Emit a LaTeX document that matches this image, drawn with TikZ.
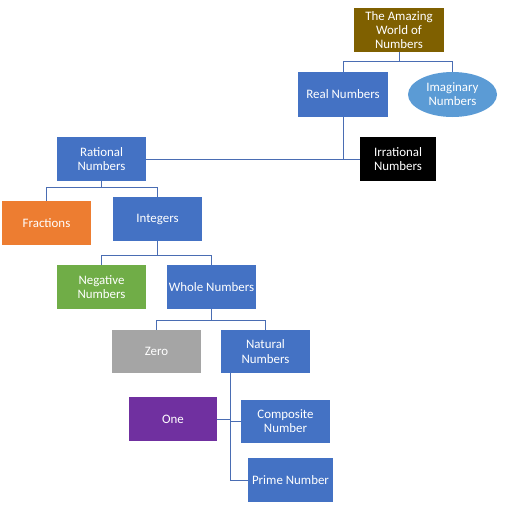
\documentclass[tikz,border=0pt]{standalone}
\usepackage{fontspec}
\setmainfont{Carlito}
\usetikzlibrary{shapes.geometric}
\definecolor{cblue}{HTML}{4472C4}
\definecolor{clight}{HTML}{5B9BD5}
\definecolor{cbrown}{HTML}{7F6000}
\definecolor{corange}{HTML}{ED7D31}
\definecolor{cgreen}{HTML}{70AD47}
\definecolor{cgray}{HTML}{A5A5A5}
\definecolor{cpurple}{HTML}{7030A0}
\definecolor{cline}{HTML}{4A6DB3}
\begin{document}
\begin{tikzpicture}[x=1pt,y=-1pt,
  box/.style={rectangle,fill=cblue,text=white,minimum width=89pt,minimum height=44pt,inner sep=1pt,align=center,font=\fontsize{12.9}{14.2}\selectfont},
  conn/.style={draw=cline,line width=1pt}]
\useasboundingbox (0,0) rectangle (505,507);
\node[box,fill=cbrown,minimum width=90pt] (top) at (399,30) {The Amazing\\World of\\Numbers};
\node[box,minimum width=90pt,minimum height=45pt] (real) at (343,94.5) {Real Numbers};
\node[box,ellipse,fill=clight,minimum width=89pt,minimum height=45pt,inner sep=0pt] (imag) at (452.5,94.5) {Imaginary\\Numbers};
\node[box,fill=black,minimum width=76pt] (irr) at (398,159) {Irrational\\Numbers};
\node[box] (rat) at (101.5,159) {Rational\\Numbers};
\node[box,fill=corange] (frac) at (46.5,223) {Fractions};
\node[box] (int) at (157.5,219) {Integers};
\node[box,fill=cgreen] (neg) at (101.5,287) {Negative\\Numbers};
\node[box] (whole) at (211.5,287) {Whole Numbers};
\node[box,fill=cgray,minimum height=43pt] (zero) at (156.5,351.5) {Zero};
\node[box,minimum height=43pt] (nat) at (265.5,351.5) {Natural\\Numbers};
\node[box,fill=cpurple,minimum width=88pt] (one) at (173,419) {One};
\node[box,minimum height=43pt] (comp) at (285.5,421.5) {Composite\\Number};
\node[box,minimum width=85pt] (prime) at (290.5,480) {Prime Number};
% connectors
\draw[conn] (top.south) -- ++(0,9) -| (real.north);
\draw[conn] (top.south) -- ++(0,9) -| (imag.north);
\draw[conn] (rat.east) -- (irr.west);
\draw[conn] (real.south) -- (real.south |- rat.east);
\draw[conn] (rat.south) -- ++(0,6) -| (frac.north);
\draw[conn] (rat.south) -- ++(0,6) -| (int.north);
\draw[conn] (int.south) -- ++(0,14) -| (neg.north);
\draw[conn] (int.south) -- ++(0,14) -| (whole.north);
\draw[conn] (whole.south) -- ++(0,11) -| (zero.north);
\draw[conn] (whole.south) -- ++(0,11) -| (nat.north);
\coordinate (ntop) at (230,373);
\coordinate (nbot) at (230,480);
\draw[conn] (ntop) -- (nbot) -- (prime.west);
\draw[conn] (ntop |- comp.west) -- (comp.west);
\draw[conn] (one.east) -- (ntop |- one.east);
\end{tikzpicture}
\end{document}
